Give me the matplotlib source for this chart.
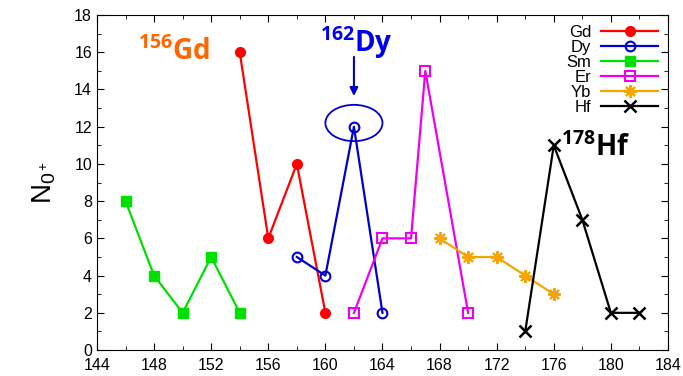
import matplotlib
matplotlib.use("Agg")
import matplotlib.pyplot as plt
from matplotlib.patches import Ellipse
from matplotlib.ticker import MultipleLocator

plt.rcParams['font.family'] = ['Liberation Sans', 'DejaVu Sans']
plt.rcParams['mathtext.fontset'] = 'custom'
plt.rcParams['mathtext.rm'] = 'Liberation Sans'
plt.rcParams['mathtext.it'] = 'Liberation Sans'
plt.rcParams['mathtext.bf'] = 'Open Sans:bold'

# data
gd_x = [154, 156, 158, 160]
gd_y = [16, 6, 10, 2]
dy_x = [158, 160, 162, 164]
dy_y = [5, 4, 12, 2]
sm_x = [146, 148, 150, 152, 154]
sm_y = [8, 4, 2, 5, 2]
er_x = [162, 164, 166, 167, 170]
er_y = [2, 6, 6, 15, 2]
yb_x = [168, 170, 172, 174, 176]
yb_y = [6, 5, 5, 4, 3]
hf_x = [174, 176, 178, 180, 182]
hf_y = [1, 11, 7, 2, 2]

fig = plt.figure(figsize=(6.83, 3.76), dpi=100)
ax = fig.add_axes([0.142, 0.069, 0.836, 0.891])

ax.plot(gd_x, gd_y, color='red', marker='o', ms=7, lw=1.6, label='Gd')
ax.plot(dy_x, dy_y, color='#0000cc', marker='o', ms=7, mfc='none', mew=1.5, lw=1.6, label='Dy')
ax.plot(sm_x, sm_y, color='#00e000', marker='s', ms=7, lw=1.6, label='Sm')
ax.plot(er_x, er_y, color='#ee00ee', marker='s', ms=7, mfc='none', mew=1.5, lw=1.6, label='Er')
ax.plot(yb_x, yb_y, color='#f5a500', marker=(8, 2, 0), ms=9, mew=1.5, lw=1.6, label='Yb')
ax.plot(hf_x, hf_y, color='black', marker='x', ms=8, mew=1.8, lw=1.6, label='Hf')

ax.set_xlim(144, 184)
ax.set_ylim(0, 18)
ax.xaxis.set_major_locator(MultipleLocator(4))
ax.xaxis.set_minor_locator(MultipleLocator(2))
ax.yaxis.set_major_locator(MultipleLocator(2))
ax.yaxis.set_minor_locator(MultipleLocator(1))
ax.tick_params(which='both', direction='in', top=True, right=True, labelsize=11.5)
ax.tick_params(which='major', length=5)
ax.tick_params(which='minor', length=3)
ax.tick_params(axis='x', pad=6)
ax.set_ylabel('N$_{0^+}$', fontsize=20, labelpad=12)

leg = ax.legend(loc='upper right', frameon=False, markerfirst=False, fontsize=12,
                handlelength=3.4, labelspacing=0.0, borderaxespad=0.2,
                handletextpad=0.6)

# highlight around 162Dy
ax.add_patch(Ellipse((162, 12.2), 4.0, 1.95, fill=False, color='#0000cc', lw=1.3))
ax.annotate('', xy=(162, 13.5), xytext=(162, 15.9),
            arrowprops=dict(arrowstyle='-|>', color='#0000cc', lw=1.5, mutation_scale=12))

ax.text(146.9, 15.6, r'$\mathbf{^{156}Gd}$', color='#ff6600', fontsize=20)
ax.text(159.6, 16.0, r'$\mathbf{^{162}Dy}$', color='#0000ee', fontsize=20)
ax.text(176.5, 10.4, r'$\mathbf{^{178}Hf}$', color='black', fontsize=20)

fig.savefig('out.png', dpi=100)
